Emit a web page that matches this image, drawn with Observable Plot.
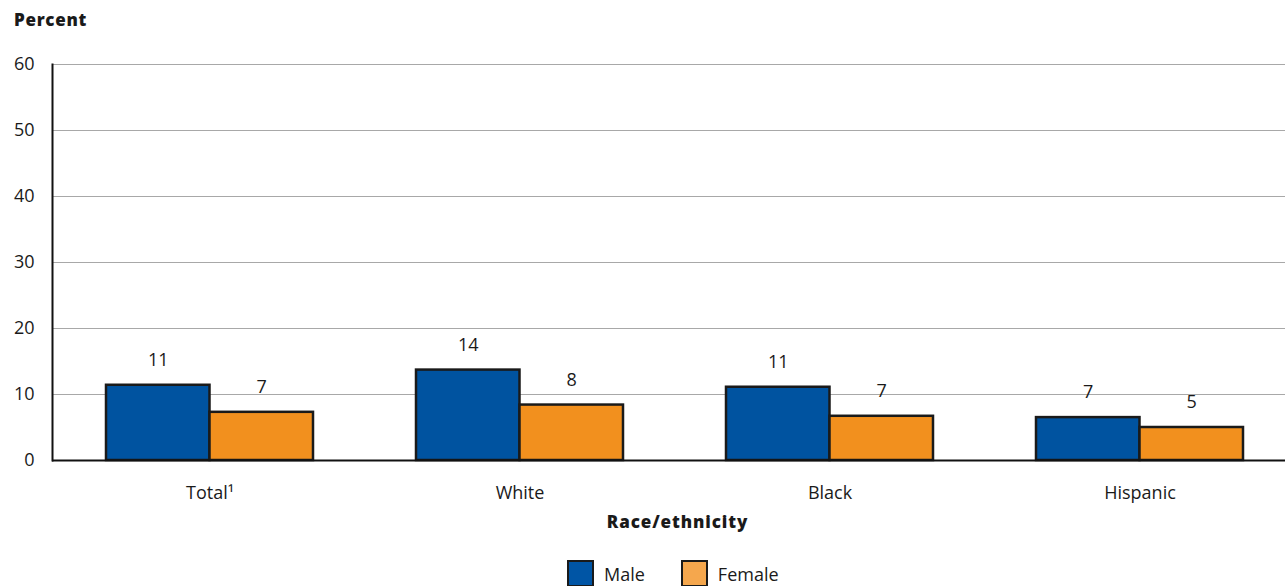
<!DOCTYPE html>
<html>
<head>
<meta charset="utf-8">
<script src="https://cdn.jsdelivr.net/npm/d3@7"></script>
<script src="https://cdn.jsdelivr.net/npm/@observablehq/plot@0.6"></script>
<style>
  html, body { margin: 0; padding: 0; background: #fff; }
  #wrap { position: relative; width: 1285px; height: 586px; overflow: hidden; font-family: "Open Sans", sans-serif; color: #1a1a1a; }
  #ylabel { position: absolute; left: 14px; top: 8px; font-size: 17px; font-weight: 800; letter-spacing: 0.7px; }
  #chart { position: absolute; left: 0; top: 40px; }
  #xlabel { position: absolute; left: 35px; top: 510px; width: 1285px; text-align: center; font-size: 17px; font-weight: 800; letter-spacing: 0.9px; }
  #legend { position: absolute; left: 567px; top: 560px; display: flex; align-items: center; font-size: 18px; }
  .sw { width: 23px; height: 23px; border: 2.5px solid #1a1a1a; box-sizing: content-box; margin-right: 10px; }
  .item { display: flex; align-items: center; margin-right: 36px; }
</style>
</head>
<body>
<div id="wrap">
  <div id="ylabel">Percent</div>
  <div id="chart"></div>
  <div id="xlabel">Race/ethnicity</div>
  <div id="legend"></div>
</div>
<script>
const categories = ["Total¹", "White", "Black", "Hispanic"];
const sexes = ["Male", "Female"];
const maleValues = [11.4, 13.7, 11.1, 6.5];
const femaleValues = [7.3, 8.4, 6.7, 5.0];
const maleLabels = ["11", "14", "11", "7"];
const femaleLabels = ["7", "8", "7", "5"];
const yTicks = [0, 10, 20, 30, 40, 50, 60];
const barColors = ["#0053a0", "#f2901e"];
const legendColors = ["#0055a5", "#f5a74d"];

const maleData = categories.map((c, i) => ({category: c, value: maleValues[i], label: maleLabels[i]}));
const femaleData = categories.map((c, i) => ({category: c, value: femaleValues[i], label: femaleLabels[i]}));

const width = 1285, marginLeft = 52, marginRight = 0;
const paddingInner = 0.333, paddingOuter = 0.153;
const step = (width - marginLeft - marginRight) / (categories.length - paddingInner + 2 * paddingOuter);
const half = step * (1 - paddingInner) / 2;

const chart = Plot.plot({
  width,
  height: 470,
  marginLeft,
  marginRight,
  marginTop: 24,
  marginBottom: 50,
  style: {fontFamily: "Open Sans, sans-serif", fontSize: "18px", color: "#1a1a1a", background: "white"},
  x: {domain: categories, paddingInner, paddingOuter, align: 0.56, label: null},
  y: {domain: [0, 60], ticks: yTicks, label: null},
  marks: [
    Plot.ruleY(yTicks.slice(1), {stroke: "#a8a8a8", strokeWidth: 1}),
    Plot.barY(maleData, {x: "category", y: "value", fill: barColors[0], stroke: "#1a1a1a", strokeWidth: 2.5, insetRight: half}),
    Plot.barY(femaleData, {x: "category", y: "value", fill: barColors[1], stroke: "#1a1a1a", strokeWidth: 2.5, insetLeft: half}),
    Plot.text(maleData, {x: "category", y: "value", text: "label", dx: -half / 2, dy: -25, fontSize: 18, fill: "#1a1a1a"}),
    Plot.text(femaleData, {x: "category", y: "value", text: "label", dx: half / 2, dy: -25, fontSize: 18, fill: "#1a1a1a"}),
    Plot.ruleY([0], {stroke: "#111", strokeWidth: 2}),
    Plot.frame({anchor: "left", stroke: "#111", strokeWidth: 2}),
    Plot.axisY({ticks: yTicks, tickSize: 0, tickPadding: 18, label: null, fontSize: 18}),
    Plot.axisX({anchor: "bottom", tickSize: 0, tickPadding: 26, label: null, fontSize: 18})
  ]
});
document.getElementById("chart").appendChild(chart);

const legend = document.getElementById("legend");
sexes.forEach((s, i) => {
  const item = document.createElement("div");
  item.className = "item";
  const sw = document.createElement("div");
  sw.className = "sw";
  sw.style.background = legendColors[i];
  const t = document.createElement("span");
  t.textContent = s;
  item.appendChild(sw);
  item.appendChild(t);
  legend.appendChild(item);
});
</script>
</body>
</html>
